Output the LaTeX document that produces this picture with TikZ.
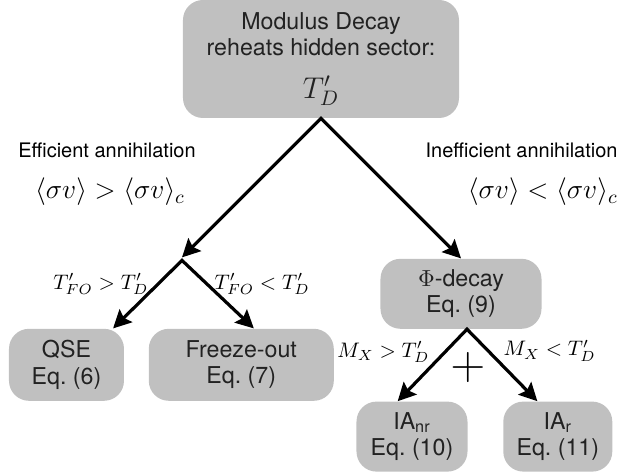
\RequirePackage{fix-cm}
\documentclass[tikz,border=0pt]{standalone}
\usepackage{fontspec}
\setmainfont{TeX Gyre Heros}
\usetikzlibrary{arrows.meta, positioning, calc}
\definecolor{boxgray}{HTML}{C0C0C0}
\definecolor{boxtext}{HTML}{222222}
\tikzset{
  % Regime boxes
  stage/.style={
    rectangle, rounded corners=10pt, fill=boxgray, draw=none,
    text=boxtext, font=\fontsize{11.6}{13.2}\selectfont,
    align=center, inner sep=2pt, minimum height=35pt,
  },
  % Two-headed branching arrows
  fork/.style={
    {Stealth[length=9pt,width=9pt,inset=1.5pt]}-{Stealth[length=9pt,width=9pt,inset=1.5pt]},
    line width=1.6pt, line join=miter,
  },
  % Labels
  condlabel/.style={font=\fontsize{10.5}{12}\selectfont, inner sep=1pt},
  sidelabel/.style={font=\fontsize{10}{12}\selectfont, inner sep=0pt},
  ratelabel/.style={font=\fontsize{13.8}{16}\selectfont, inner sep=0pt},
}

\begin{document}
\begin{tikzpicture}
  \useasboundingbox (-160.5pt,29.5pt) rectangle (150pt,-208.5pt);

  % Reheating box
  \node[stage, minimum width=138pt, minimum height=59pt] (reheat) at (0,0) {
    Modulus Decay\\reheats hidden sector:\\[8.3pt]{\fontsize{15}{15}\selectfont$T'_D$}
  };

  % Annihilation regimes
  \node[sidelabel] (eff) at ($(reheat)+(-107pt,-45.5pt)$) {Efficient annihilation};
  \node[ratelabel, below=10pt of eff, xshift=1.5pt] (effrate)
    {$\langle\sigma v\rangle > \langle\sigma v\rangle_c$};
  \node[sidelabel, anchor=east] (ineff) at ($(reheat)+(148.5pt,-45.5pt)$) {Inefficient annihilation};
  \node[ratelabel, below=10pt of ineff.south east, anchor=north east] (ineffrate)
    {$\langle\sigma v\rangle < \langle\sigma v\rangle_c$};

  \coordinate[below left=69.5pt and 69.5pt of reheat.south] (split);
  \coordinate[below=1.5pt of split] (splitfork);

  \node[stage, minimum width=80.5pt, below=70pt of reheat.south, xshift=70pt] (phi)
    {$\Phi$-decay\\Eq.~(9)};
  \coordinate (phibot) at ([xshift=3pt]phi.south);

  % Outcomes
  \node[stage, minimum width=57.5pt, minimum height=36pt, below=35.5pt of split, xshift=-57.75pt] (qse)
    {QSE\\Eq.~(6)};
  \node[stage, minimum width=92.5pt, minimum height=36pt, right=12pt of qse] (freeze)
    {Freeze-out\\Eq.~(7)};
  \node[stage, minimum width=55.5pt, below=36pt of phi, xshift=-24.5pt] (ianr)
    {IA\textsubscript{nr}\\Eq.~(10)};
  \node[stage, minimum width=54.5pt, right=17.5pt of ianr] (iar)
    {IA\textsubscript{r}\\Eq.~(11)};

  % Arrows
  \draw[fork] (split) -- (reheat.south) -- (phi.north);
  \draw[fork] (qse.38)
    -- node[condlabel, pos=0.65, left=3pt] (foabove) {$T'_{FO} > T'_D$} (splitfork)
    -- node[condlabel, pos=0.35, right=2pt] (fobelow) {$T'_{FO} < T'_D$} (freeze.71);
  \draw[fork] (ianr.112)
    -- node[condlabel, pos=0.68, left=6pt] (mheavy) {$M_X > T'_D$} (phibot)
    -- node[condlabel, pos=0.3, right=6pt] (mlight) {$M_X < T'_D$} (iar.120);

  \node[font=\fontsize{24}{24}\selectfont, inner sep=0pt] (plus) at ($(phibot)+(0.5pt,-19pt)$) {$+$};
\end{tikzpicture}
\end{document}
